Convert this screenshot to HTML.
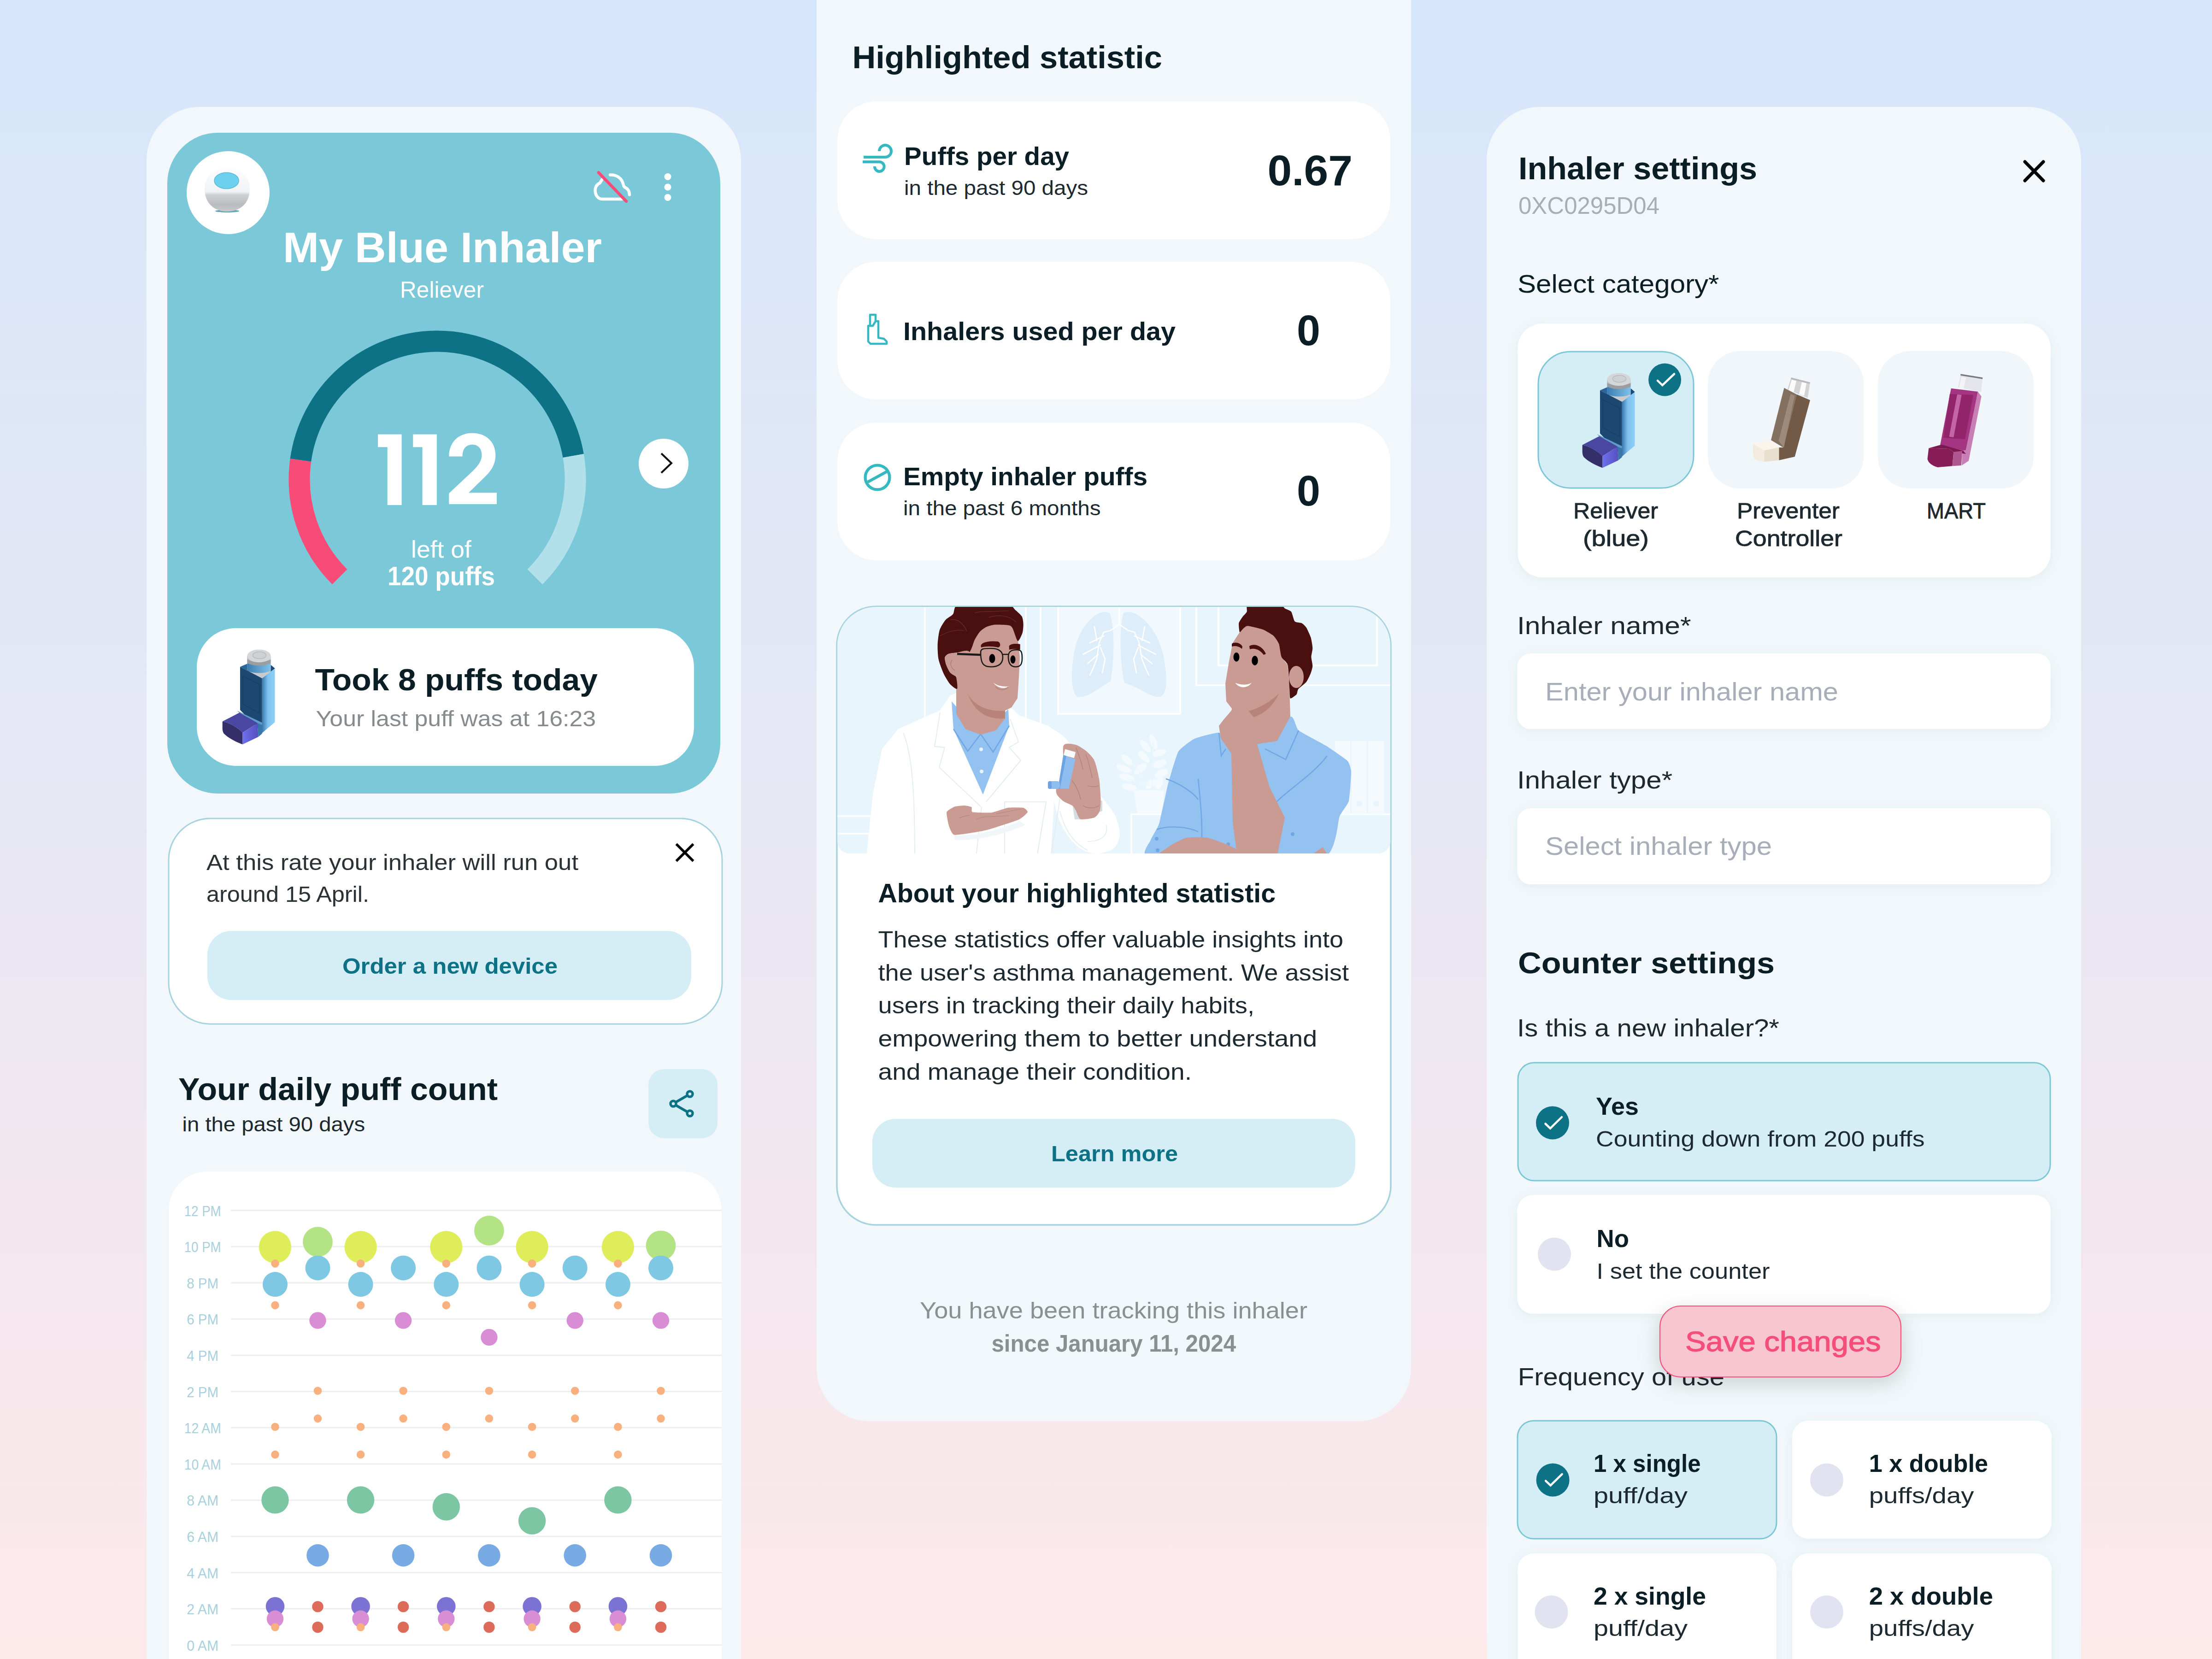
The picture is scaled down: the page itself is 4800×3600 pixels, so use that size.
<!DOCTYPE html>
<html><head><meta charset="utf-8"><style>
html,body{margin:0;padding:0;width:4800px;height:3600px;overflow:hidden}
body{background:linear-gradient(180deg,#d5e6fb 0%,#dfe7f7 25%,#e7e7f3 50%,#f3e7ee 75%,#fde9ea 100%)}
svg{position:absolute;left:0;top:0;font-family:"Liberation Sans",sans-serif}
</style></head><body>
<svg width="4800" height="3600" viewBox="0 0 4800 3600">
<defs><filter id="sh2" x="-10%" y="-30%" width="120%" height="160%"><feDropShadow dx="0" dy="4" stdDeviation="10" flood-color="#4a6a7a" flood-opacity="0.07"/></filter><filter id="sh" x="-30%" y="-50%" width="160%" height="200%"><feDropShadow dx="0" dy="12" stdDeviation="22" flood-color="#000" flood-opacity="0.16"/></filter></defs>
<rect x="318.0" y="232.0" width="1290.0" height="3600.0" rx="115" fill="#f1f7fa"/>
<rect x="1772.0" y="-200.0" width="1290.0" height="3284.0" rx="115" fill="#f1f7fa"/>
<rect x="3226.0" y="232.0" width="1290.0" height="3600.0" rx="115" fill="#f1f7fa"/>
<rect x="363.0" y="288.0" width="1200.0" height="1434.0" rx="110" fill="#7bc9d8"/>
<circle cx="495" cy="418" r="90" fill="#fff"/>
<defs><linearGradient id="knob" x1="0" y1="0" x2="0" y2="1"><stop offset="0" stop-color="#fdfdfe"/><stop offset="0.55" stop-color="#f1f2f5"/><stop offset="0.62" stop-color="#cfd0d4"/><stop offset="0.85" stop-color="#bbbcc0"/><stop offset="1" stop-color="#c9cacd"/></linearGradient></defs>
<ellipse cx="493" cy="458" rx="26" ry="3" fill="#5fa5b3"/>
<path d="M444 410 C444 380 468 364 493 364 C520 364 542 382 542 410 C542 440 522 459 493 459 C464 459 444 440 444 410 Z" fill="url(#knob)"/>
<ellipse cx="491.6" cy="392" rx="26.5" ry="17.5" fill="#6cd1ee" stroke="#5ab8d4" stroke-width="1.5"/>
<g fill="none" stroke="#fff" stroke-width="6.5" stroke-linecap="round" stroke-linejoin="round"><path d="M1324 379.5 C1338 379 1350 386 1353 402 C1353.5 405 1355 406 1357 407 C1363 410 1366 416 1366 422.5"/><path d="M1306 390 L1302 397 C1294 400 1291 408 1291.5 414 C1292 424 1298 432 1307 432 L1349 432"/></g>
<line x1="1299" y1="374.5" x2="1359" y2="436.8" stroke="#f74c78" stroke-width="6.5" stroke-linecap="round"/>
<circle cx="1449" cy="383.5" r="7.5" fill="#fff"/>
<circle cx="1449" cy="406" r="7.5" fill="#fff"/>
<circle cx="1449" cy="428.4" r="7.5" fill="#fff"/>
<text x="614.0" y="568.5" font-size="93.0" fill="#fff" font-weight="700" textLength="692.0" lengthAdjust="spacingAndGlyphs">My Blue Inhaler</text>
<text x="868.0" y="646.0" font-size="49.4" fill="#fff" textLength="182.0" lengthAdjust="spacingAndGlyphs">Reliever</text>
<path d="M737.2 1251.8 A299.5 299.5 0 0 1 652.4 998.3" fill="none" stroke="#f74c78" stroke-width="46"/>
<path d="M652.4 998.3 A299.5 299.5 0 0 1 1244.1 989.0" fill="none" stroke="#0e7286" stroke-width="46"/>
<path d="M1244.1 989.0 A299.5 299.5 0 0 1 1160.8 1251.8" fill="none" stroke="#b2e0ea" stroke-width="46"/>
<path d="M820.1 942.4 L871.6 942.4 L871.6 1096 L840.7 1096 L840.7 970.2 L820.1 970.2 Z M896.3 942.4 L947.8 942.4 L947.8 1096 L916.6 1096 L916.6 970.2 L896.3 970.2 Z M974.3 990.5 C974.3 958 997 939.7 1025 939.7 C1054 939.7 1075.3 958 1075.3 988 C1075.3 1005 1068 1020 1052 1035 L1017 1069.2 L1078 1069.2 L1078 1094 L974.3 1094 L974.3 1070.5 L1026 1022 C1038 1010 1045.5 1000 1045.5 987.8 C1045.5 973 1037 964.8 1025 964.8 C1012 964.8 1003.4 973 1003.4 990.5 Z" fill="#fff"/>
<text x="892.0" y="1210.0" font-size="50.9" fill="#fff" textLength="131.0" lengthAdjust="spacingAndGlyphs">left of</text>
<text x="841.0" y="1270.0" font-size="58.1" fill="#fff" font-weight="700" textLength="233.0" lengthAdjust="spacingAndGlyphs">120 puffs</text>
<circle cx="1440" cy="1006" r="54" fill="#fff"/>
<path d="M1435 984 L1457 1005 L1435 1026" fill="none" stroke="#111" stroke-width="4"/>
<rect x="427.0" y="1363.0" width="1079.0" height="299.0" rx="85" fill="#fff"/>
<g transform="translate(469,1395)"><defs><linearGradient id="bsa" x1="0" y1="0" x2="1" y2="0"><stop offset="0" stop-color="#3a78ad"/><stop offset="0.45" stop-color="#80c3f0"/><stop offset="1" stop-color="#8ccff7"/></linearGradient><linearGradient id="bca" x1="0" y1="0" x2="1" y2="0"><stop offset="0" stop-color="#b9babd"/><stop offset="0.6" stop-color="#d8d9db"/><stop offset="1" stop-color="#cfd0d2"/></linearGradient><linearGradient id="bba" x1="0" y1="0" x2="1" y2="0"><stop offset="0" stop-color="#3c7db3"/><stop offset="1" stop-color="#80c1ea"/></linearGradient><linearGradient id="bma" x1="0" y1="0" x2="1" y2="0"><stop offset="0" stop-color="#6e70ec"/><stop offset="1" stop-color="#5650c0"/></linearGradient></defs><polygon points="52,52 66.5,45.7 119.2,48.5 127.5,55.4 99.8,76.9" fill="#2a659b"/><polygon points="110,52 119.2,48.5 127.5,55.4 99.8,76.9" fill="#1c4a75"/><path d="M67.5 28.4 L67.5 72 Q93 84 118.5 72 L118.5 28.4 Z" fill="#c9cacd"/><path d="M67.5 44 L67.5 61 Q93 70 118.5 61 L118.5 44 Q93 53 67.5 44 Z" fill="url(#bba)"/><path d="M67.5 28.4 L67.5 40 Q93 52 118.5 40 L118.5 28.4 Z" fill="url(#bca)"/><path d="M67.5 36 L67.5 44 Q93 55 118.5 44 L118.5 36 Q93 47 67.5 36 Z" fill="#9c9da0"/><ellipse cx="93" cy="28.4" rx="25.5" ry="13.9" fill="#d5d6d8"/><ellipse cx="94" cy="27" rx="14.6" ry="7.6" fill="#cfd0d3" stroke="#b4b5b8" stroke-width="1.2"/><polygon points="52,52 99.8,76.9 99.8,195.5 52,145.5" fill="#1d4872"/><polygon points="58.2,72.1 94.3,90.1 94.3,152.5 58.2,133.1" fill="none" stroke="#173d62" stroke-width="1.3"/><polygon points="99.8,76.9 127.5,55.4 127.5,171.9 99.8,195.5" fill="url(#bsa)"/><polygon points="45.7,147.5 99.8,173.3 99.8,197 91.5,203.9 90.1,174.2 50.5,151.5" fill="#3977ab"/><polygon points="45.7,147.5 99.8,173.3 99.8,178 90.1,174.2 50.5,151.5" fill="#5e9bcb"/><path d="M13.7 170.6 L50.5 151.5 L90.1 174.2 L57.5 194.7 C45 182 25 172 13.7 170.6 Z" fill="#4a47a2"/><path d="M13.7 170.6 C25 172 45 182 57.5 194.7 L57.5 220.2 C40 214 25 205 17 197 C14 193 13.7 188 13.7 184 Z" fill="#342e69"/><polygon points="57.5,194.7 90.1,174.2 91.5,203.9 57.5,220.2" fill="url(#bma)"/></g>
<text x="683.5" y="1497.6" font-size="66.1" fill="#0b1e25" font-weight="700" textLength="613.5" lengthAdjust="spacingAndGlyphs">Took 8 puffs today</text>
<text x="685.6" y="1575.6" font-size="48.7" fill="#868b8e" textLength="607.4" lengthAdjust="spacingAndGlyphs">Your last puff was at 16:23</text>
<rect x="366.0" y="1776.0" width="1201.0" height="446.0" rx="90" fill="#fff" stroke="#a6d3de" stroke-width="3"/>
<text x="448.0" y="1887.5" font-size="48.7" fill="#2a3236" textLength="807.0" lengthAdjust="spacingAndGlyphs">At this rate your inhaler will run out</text>
<text x="448.0" y="1956.6" font-size="48.7" fill="#2a3236" textLength="353.0" lengthAdjust="spacingAndGlyphs">around 15 April.</text>
<path d="M1467.5 1831.5 L1504.5 1868.5 M1504.5 1831.5 L1467.5 1868.5" stroke="#000" stroke-width="5.5"/>
<rect x="450.0" y="2020.0" width="1050.0" height="150.0" rx="52" fill="#d5eef5"/>
<text x="743.0" y="2113.0" font-size="48.7" fill="#0e7286" font-weight="700" textLength="467.0" lengthAdjust="spacingAndGlyphs">Order a new device</text>
<text x="387.0" y="2387.0" font-size="68.3" fill="#0b1e25" font-weight="700" textLength="693.0" lengthAdjust="spacingAndGlyphs">Your daily puff count</text>
<text x="395.5" y="2454.6" font-size="44.2" fill="#1c2930" textLength="396.5" lengthAdjust="spacingAndGlyphs">in the past 90 days</text>
<rect x="1407.0" y="2320.0" width="150.0" height="150.0" rx="34" fill="#d5eef5"/>
<g fill="none" stroke="#0e7286" stroke-width="5.5"><circle cx="1497" cy="2374" r="6"/><circle cx="1461" cy="2395" r="6"/><circle cx="1497" cy="2416" r="6"/><path d="M1466 2392 L1492 2377 M1466 2398 L1492 2413"/></g>
<rect x="366.0" y="2542.0" width="1200.0" height="1200.0" rx="85" fill="#fff"/>
<line x1="501" y1="2626.5" x2="1566" y2="2626.5" stroke="#eceef0" stroke-width="3"/>
<text x="439.7" y="2638.5" font-size="31.0" fill="#a9d0dd" text-anchor="middle" textLength="80.0" lengthAdjust="spacingAndGlyphs">12 PM</text>
<line x1="501" y1="2705.1" x2="1566" y2="2705.1" stroke="#eceef0" stroke-width="3"/>
<text x="439.7" y="2717.1" font-size="31.0" fill="#a9d0dd" text-anchor="middle" textLength="80.0" lengthAdjust="spacingAndGlyphs">10 PM</text>
<line x1="501" y1="2783.7" x2="1566" y2="2783.7" stroke="#eceef0" stroke-width="3"/>
<text x="439.7" y="2795.7" font-size="31.0" fill="#a9d0dd" text-anchor="middle" textLength="69.0" lengthAdjust="spacingAndGlyphs">8 PM</text>
<line x1="501" y1="2862.3" x2="1566" y2="2862.3" stroke="#eceef0" stroke-width="3"/>
<text x="439.7" y="2874.3" font-size="31.0" fill="#a9d0dd" text-anchor="middle" textLength="69.0" lengthAdjust="spacingAndGlyphs">6 PM</text>
<line x1="501" y1="2940.9" x2="1566" y2="2940.9" stroke="#eceef0" stroke-width="3"/>
<text x="439.7" y="2952.9" font-size="31.0" fill="#a9d0dd" text-anchor="middle" textLength="69.0" lengthAdjust="spacingAndGlyphs">4 PM</text>
<line x1="501" y1="3019.5" x2="1566" y2="3019.5" stroke="#eceef0" stroke-width="3"/>
<text x="439.7" y="3031.5" font-size="31.0" fill="#a9d0dd" text-anchor="middle" textLength="69.0" lengthAdjust="spacingAndGlyphs">2 PM</text>
<line x1="501" y1="3098.1" x2="1566" y2="3098.1" stroke="#eceef0" stroke-width="3"/>
<text x="439.7" y="3110.1" font-size="31.0" fill="#a9d0dd" text-anchor="middle" textLength="80.0" lengthAdjust="spacingAndGlyphs">12 AM</text>
<line x1="501" y1="3176.7" x2="1566" y2="3176.7" stroke="#eceef0" stroke-width="3"/>
<text x="439.7" y="3188.7" font-size="31.0" fill="#a9d0dd" text-anchor="middle" textLength="80.0" lengthAdjust="spacingAndGlyphs">10 AM</text>
<line x1="501" y1="3255.3" x2="1566" y2="3255.3" stroke="#eceef0" stroke-width="3"/>
<text x="439.7" y="3267.3" font-size="31.0" fill="#a9d0dd" text-anchor="middle" textLength="69.0" lengthAdjust="spacingAndGlyphs">8 AM</text>
<line x1="501" y1="3333.9" x2="1566" y2="3333.9" stroke="#eceef0" stroke-width="3"/>
<text x="439.7" y="3345.9" font-size="31.0" fill="#a9d0dd" text-anchor="middle" textLength="69.0" lengthAdjust="spacingAndGlyphs">6 AM</text>
<line x1="501" y1="3412.5" x2="1566" y2="3412.5" stroke="#eceef0" stroke-width="3"/>
<text x="439.7" y="3424.5" font-size="31.0" fill="#a9d0dd" text-anchor="middle" textLength="69.0" lengthAdjust="spacingAndGlyphs">4 AM</text>
<line x1="501" y1="3491.1" x2="1566" y2="3491.1" stroke="#eceef0" stroke-width="3"/>
<text x="439.7" y="3503.1" font-size="31.0" fill="#a9d0dd" text-anchor="middle" textLength="69.0" lengthAdjust="spacingAndGlyphs">2 AM</text>
<line x1="501" y1="3569.7" x2="1566" y2="3569.7" stroke="#eceef0" stroke-width="3"/>
<text x="439.7" y="3581.7" font-size="31.0" fill="#a9d0dd" text-anchor="middle" textLength="69.0" lengthAdjust="spacingAndGlyphs">0 AM</text>
<circle cx="597.0" cy="2706.1" r="35.1" fill="#e0ed5a"/>
<circle cx="597.0" cy="2787.1" r="27.0" fill="#7fc8e3"/>
<circle cx="597.0" cy="2741.9" r="8.8" fill="#f9b07f"/>
<circle cx="597.0" cy="2832.4" r="8.8" fill="#f9b07f"/>
<circle cx="597.0" cy="3096.3" r="8.8" fill="#f9b07f"/>
<circle cx="597.0" cy="3156.4" r="8.8" fill="#f9b07f"/>
<circle cx="597.0" cy="3254.9" r="29.7" fill="#7cc6a3"/>
<circle cx="597.0" cy="3485.8" r="20.3" fill="#7b72d4"/>
<circle cx="597.0" cy="3512.8" r="18.2" fill="#d88dd5"/>
<circle cx="597.0" cy="3531.0" r="8.8" fill="#f9b07f"/>
<circle cx="782.6" cy="2706.1" r="35.1" fill="#e0ed5a"/>
<circle cx="782.6" cy="2787.1" r="27.0" fill="#7fc8e3"/>
<circle cx="782.6" cy="2741.9" r="8.8" fill="#f9b07f"/>
<circle cx="782.6" cy="2832.4" r="8.8" fill="#f9b07f"/>
<circle cx="782.6" cy="3096.3" r="8.8" fill="#f9b07f"/>
<circle cx="782.6" cy="3156.4" r="8.8" fill="#f9b07f"/>
<circle cx="782.6" cy="3254.9" r="29.7" fill="#7cc6a3"/>
<circle cx="782.6" cy="3485.8" r="20.3" fill="#7b72d4"/>
<circle cx="782.6" cy="3512.8" r="18.2" fill="#d88dd5"/>
<circle cx="782.6" cy="3531.0" r="8.8" fill="#f9b07f"/>
<circle cx="968.3" cy="2706.1" r="35.1" fill="#e0ed5a"/>
<circle cx="968.3" cy="2787.1" r="27.0" fill="#7fc8e3"/>
<circle cx="968.3" cy="2741.9" r="8.8" fill="#f9b07f"/>
<circle cx="968.3" cy="2832.4" r="8.8" fill="#f9b07f"/>
<circle cx="968.3" cy="3096.3" r="8.8" fill="#f9b07f"/>
<circle cx="968.3" cy="3156.4" r="8.8" fill="#f9b07f"/>
<circle cx="968.3" cy="3269.8" r="29.7" fill="#7cc6a3"/>
<circle cx="968.3" cy="3485.8" r="20.3" fill="#7b72d4"/>
<circle cx="968.3" cy="3512.8" r="18.2" fill="#d88dd5"/>
<circle cx="968.3" cy="3531.0" r="8.8" fill="#f9b07f"/>
<circle cx="1154.6" cy="2706.1" r="35.1" fill="#e0ed5a"/>
<circle cx="1154.6" cy="2787.1" r="27.0" fill="#7fc8e3"/>
<circle cx="1154.6" cy="2741.9" r="8.8" fill="#f9b07f"/>
<circle cx="1154.6" cy="2832.4" r="8.8" fill="#f9b07f"/>
<circle cx="1154.6" cy="3096.3" r="8.8" fill="#f9b07f"/>
<circle cx="1154.6" cy="3156.4" r="8.8" fill="#f9b07f"/>
<circle cx="1154.6" cy="3300.1" r="29.7" fill="#7cc6a3"/>
<circle cx="1154.6" cy="3485.8" r="20.3" fill="#7b72d4"/>
<circle cx="1154.6" cy="3512.8" r="18.2" fill="#d88dd5"/>
<circle cx="1154.6" cy="3531.0" r="8.8" fill="#f9b07f"/>
<circle cx="1340.9" cy="2706.1" r="35.1" fill="#e0ed5a"/>
<circle cx="1340.9" cy="2787.1" r="27.0" fill="#7fc8e3"/>
<circle cx="1340.9" cy="2741.9" r="8.8" fill="#f9b07f"/>
<circle cx="1340.9" cy="2832.4" r="8.8" fill="#f9b07f"/>
<circle cx="1340.9" cy="3096.3" r="8.8" fill="#f9b07f"/>
<circle cx="1340.9" cy="3156.4" r="8.8" fill="#f9b07f"/>
<circle cx="1340.9" cy="3254.9" r="29.7" fill="#7cc6a3"/>
<circle cx="1340.9" cy="3485.8" r="20.3" fill="#7b72d4"/>
<circle cx="1340.9" cy="3512.8" r="18.2" fill="#d88dd5"/>
<circle cx="1340.9" cy="3531.0" r="8.8" fill="#f9b07f"/>
<circle cx="689.5" cy="2694.7" r="32.4" fill="#b3e384"/>
<circle cx="689.5" cy="2751.4" r="27.0" fill="#7fc8e3"/>
<circle cx="689.5" cy="2865.4" r="18.2" fill="#d88dd5"/>
<circle cx="689.5" cy="3018.0" r="8.8" fill="#f9b07f"/>
<circle cx="689.5" cy="3078.1" r="8.8" fill="#f9b07f"/>
<circle cx="689.5" cy="3375.1" r="24.3" fill="#78abe3"/>
<circle cx="689.5" cy="3486.4" r="12.2" fill="#dc6b5a"/>
<circle cx="689.5" cy="3531.0" r="12.2" fill="#dc6b5a"/>
<circle cx="875.1" cy="2751.4" r="27.0" fill="#7fc8e3"/>
<circle cx="875.1" cy="2865.4" r="18.2" fill="#d88dd5"/>
<circle cx="875.1" cy="3018.0" r="8.8" fill="#f9b07f"/>
<circle cx="875.1" cy="3078.1" r="8.8" fill="#f9b07f"/>
<circle cx="875.1" cy="3375.1" r="24.3" fill="#78abe3"/>
<circle cx="875.1" cy="3486.4" r="12.2" fill="#dc6b5a"/>
<circle cx="875.1" cy="3531.0" r="12.2" fill="#dc6b5a"/>
<circle cx="1061.4" cy="2670.4" r="32.4" fill="#b3e384"/>
<circle cx="1061.4" cy="2751.4" r="27.0" fill="#7fc8e3"/>
<circle cx="1061.4" cy="2901.9" r="18.2" fill="#d88dd5"/>
<circle cx="1061.4" cy="3018.0" r="8.8" fill="#f9b07f"/>
<circle cx="1061.4" cy="3078.1" r="8.8" fill="#f9b07f"/>
<circle cx="1061.4" cy="3375.1" r="24.3" fill="#78abe3"/>
<circle cx="1061.4" cy="3486.4" r="12.2" fill="#dc6b5a"/>
<circle cx="1061.4" cy="3531.0" r="12.2" fill="#dc6b5a"/>
<circle cx="1247.7" cy="2751.4" r="27.0" fill="#7fc8e3"/>
<circle cx="1247.7" cy="2865.4" r="18.2" fill="#d88dd5"/>
<circle cx="1247.7" cy="3018.0" r="8.8" fill="#f9b07f"/>
<circle cx="1247.7" cy="3078.1" r="8.8" fill="#f9b07f"/>
<circle cx="1247.7" cy="3375.1" r="24.3" fill="#78abe3"/>
<circle cx="1247.7" cy="3486.4" r="12.2" fill="#dc6b5a"/>
<circle cx="1247.7" cy="3531.0" r="12.2" fill="#dc6b5a"/>
<circle cx="1434.0" cy="2702.8" r="32.4" fill="#b3e384"/>
<circle cx="1434.0" cy="2751.4" r="27.0" fill="#7fc8e3"/>
<circle cx="1434.0" cy="2865.4" r="18.2" fill="#d88dd5"/>
<circle cx="1434.0" cy="3018.0" r="8.8" fill="#f9b07f"/>
<circle cx="1434.0" cy="3078.1" r="8.8" fill="#f9b07f"/>
<circle cx="1434.0" cy="3375.1" r="24.3" fill="#78abe3"/>
<circle cx="1434.0" cy="3486.4" r="12.2" fill="#dc6b5a"/>
<circle cx="1434.0" cy="3531.0" r="12.2" fill="#dc6b5a"/>
<text x="1849.5" y="147.8" font-size="67.6" fill="#0b1e25" font-weight="700" textLength="672.5" lengthAdjust="spacingAndGlyphs">Highlighted statistic</text>
<rect x="1817.0" y="220.0" width="1200.0" height="299.0" rx="85" fill="#fff"/>
<rect x="1817.0" y="568.0" width="1200.0" height="299.0" rx="85" fill="#fff"/>
<rect x="1817.0" y="917.0" width="1200.0" height="299.0" rx="85" fill="#fff"/>
<text x="1962.0" y="358.0" font-size="54.8" fill="#0b1e25" font-weight="700" textLength="358.0" lengthAdjust="spacingAndGlyphs">Puffs per day</text>
<text x="1962.0" y="423.0" font-size="44.2" fill="#1c2930" textLength="399.0" lengthAdjust="spacingAndGlyphs">in the past 90 days</text>
<text x="2750.5" y="401.5" font-size="93.0" fill="#0b1e25" font-weight="700" textLength="184.5" lengthAdjust="spacingAndGlyphs">0.67</text>
<text x="1960.0" y="738.0" font-size="54.8" fill="#0b1e25" font-weight="700" textLength="591.0" lengthAdjust="spacingAndGlyphs">Inhalers used per day</text>
<text x="2814.0" y="748.6" font-size="93.0" fill="#0b1e25" font-weight="700" textLength="51.0" lengthAdjust="spacingAndGlyphs">0</text>
<text x="1960.0" y="1053.0" font-size="54.8" fill="#0b1e25" font-weight="700" textLength="530.0" lengthAdjust="spacingAndGlyphs">Empty inhaler puffs</text>
<text x="1960.0" y="1118.0" font-size="44.2" fill="#1c2930" textLength="428.5" lengthAdjust="spacingAndGlyphs">in the past 6 months</text>
<text x="2814.0" y="1097.0" font-size="93.0" fill="#0b1e25" font-weight="700" textLength="51.0" lengthAdjust="spacingAndGlyphs">0</text>
<g fill="none" stroke="#35b8bf" stroke-width="6" stroke-linecap="butt"><path d="M1874 341 L1921 341 A13 13 0 1 0 1908 328"/><path d="M1872 351.3 L1907.7 351.3 A10.3 10.3 0 1 1 1898 361"/></g>
<path d="M1884 707 L1888 707 L1888 683 L1900 683 L1900 697 L1906 697 L1906 733 L1918 735 L1924 741 L1924 746 L1889 746 L1884 741 Z M1888 707 L1894 707 L1900 697" fill="none" stroke="#35b8bf" stroke-width="4.5" stroke-linejoin="round"/>
<g fill="none" stroke="#35b8bf" stroke-width="6.3"><circle cx="1904" cy="1036" r="26.4"/><path d="M1883 1046 L1925 1023"/></g>
<rect x="1816.0" y="1316.0" width="1202.0" height="1342.0" rx="85" fill="#fff" stroke="#a6d3de" stroke-width="3.5"/>
<clipPath id="illuclip"><path d="M1901 1317 L2933 1317 A84 84 0 0 1 3017 1401 L3017 1826 A26 26 0 0 1 2991 1852 L1843 1852 A26 26 0 0 1 1817 1826 L1817 1401 A84 84 0 0 1 1901 1317 Z"/></clipPath>
<g clip-path="url(#illuclip)">
<rect x="1816" y="1316" width="1202" height="540" fill="#e8f5fd"/>
<g stroke="#ffffff" stroke-width="3.5" fill="none"><line x1="2007" y1="1316" x2="2007" y2="1560"/><line x1="2226" y1="1316" x2="2226" y2="1560"/><line x1="2258" y1="1316" x2="2258" y2="1580"/><line x1="1816" y1="1771" x2="1900" y2="1771"/><line x1="1816" y1="1809" x2="1900" y2="1809"/></g>
<rect x="2296" y="1310" width="265" height="239" fill="#f1f9fe" stroke="#fff" stroke-width="4"/>
<path d="M2408 1330 C2380 1318 2340 1360 2330 1420 C2322 1470 2326 1505 2338 1512 C2355 1518 2390 1490 2410 1478 C2418 1440 2420 1360 2408 1330 Z" fill="#ddedfa"/>
<path d="M2438 1330 C2466 1318 2510 1360 2524 1420 C2534 1470 2534 1505 2518 1512 C2500 1516 2470 1490 2440 1482 C2430 1440 2428 1360 2438 1330 Z" fill="#ddedfa"/>
<g stroke="#fff" stroke-width="2.6" fill="none" stroke-linecap="round"><path d="M2429 1316 L2429 1355 M2429 1355 L2410 1368 L2395 1372 L2385 1395 L2380 1430 L2372 1450 M2395 1380 L2365 1395 M2388 1400 L2350 1420 M2383 1420 L2360 1440 M2388 1405 L2398 1430 L2392 1460 M2380 1390 L2375 1360 M2372 1450 L2365 1465"/><path d="M2429 1355 L2448 1368 L2462 1372 L2472 1395 L2478 1430 L2486 1450 M2462 1380 L2495 1395 M2470 1400 L2508 1420 M2475 1420 L2500 1440 M2470 1405 L2460 1430 L2466 1460 M2478 1390 L2484 1360 M2486 1450 L2493 1465"/></g>
<g stroke="#fff" stroke-width="4" stroke-dasharray="3 4"><path d="M2429 1318 L2429 1352"/></g>
<g stroke="#ffffff" stroke-width="3.5" fill="none"><rect x="2596" y="1300" width="440" height="187"/><rect x="2644" y="1300" width="344" height="144"/><line x1="2453" y1="1767" x2="3020" y2="1767"/><line x1="2455" y1="1767" x2="2455" y2="1860"/></g>
<g fill="#f4fafe"><rect x="2897" y="1608" width="33" height="159"/><rect x="2933" y="1608" width="33" height="159"/><rect x="2969" y="1608" width="34" height="159"/></g>
<g fill="#e8f5fd"><circle cx="2950" cy="1744" r="7"/><circle cx="2986" cy="1744" r="7"/></g>
<g fill="#f5faff"><ellipse cx="2503" cy="1610" rx="7" ry="17" transform="rotate(-20 2503 1610)"/><ellipse cx="2485.6" cy="1619" rx="7" ry="16" transform="rotate(-40 2485.6 1619)"/><ellipse cx="2515.3" cy="1633.8" rx="16" ry="7" transform="rotate(-15 2515.3 1633.8)"/><ellipse cx="2445.4" cy="1648.6" rx="7" ry="15" transform="rotate(-50 2445.4 1648.6)"/><ellipse cx="2482" cy="1642" rx="7" ry="16" transform="rotate(-45 2482 1642)"/><ellipse cx="2438.4" cy="1667.9" rx="17" ry="7" transform="rotate(20 2438.4 1667.9)"/><ellipse cx="2475" cy="1668" rx="16" ry="8" transform="rotate(-40 2475 1668)"/><ellipse cx="2517" cy="1657.4" rx="15" ry="8" transform="rotate(-20 2517 1657.4)"/><ellipse cx="2520.6" cy="1678.3" rx="15" ry="8" transform="rotate(-25 2520.6 1678.3)"/><ellipse cx="2445.4" cy="1687" rx="17" ry="7" transform="rotate(15 2445.4 1687)"/><ellipse cx="2497.9" cy="1701" rx="14" ry="8" transform="rotate(-40 2497.9 1701)"/><ellipse cx="2450.7" cy="1708" rx="16" ry="7" transform="rotate(10 2450.7 1708)"/><ellipse cx="2515.3" cy="1699.3" rx="8" ry="14" transform="rotate(20 2515.3 1699.3)"/><path d="M2460.3 1715 L2525.8 1715 L2522.3 1765.7 L2468 1765.7 Z"/></g>
<g stroke="#ecf6fd" stroke-width="2" fill="none"><path d="M2500 1715 L2502 1610 M2490 1700 L2455 1650 M2495 1705 L2445 1690"/></g>
<polygon points="1880,1860 1894,1724 1914,1625 1949,1582 2009,1555 2039,1542 2062,1509 2075,1504 2198,1539 2211,1552 2274,1575 2300,1592 2290,1700 2280,1860" fill="#fff"/>
<path d="M2262.0 1580.0 C2266.7 1573.6 2291.3 1586.4 2300.0 1592.0 C2308.7 1597.6 2320.3 1610.3 2327.0 1622.0 C2333.7 1633.7 2340.9 1664.9 2350.0 1680.0 C2359.1 1695.1 2385.7 1723.0 2395.0 1735.0 C2404.3 1747.0 2415.3 1760.0 2420.0 1770.0 C2424.7 1780.0 2430.3 1800.7 2430.0 1810.0 C2429.7 1819.3 2424.0 1834.4 2418.0 1840.0 C2412.0 1845.6 2394.1 1851.3 2385.0 1852.0 C2375.9 1852.7 2358.9 1849.9 2350.0 1845.0 C2341.1 1840.1 2325.3 1825.0 2318.0 1815.0 C2310.7 1805.0 2300.1 1785.3 2295.0 1770.0 C2289.9 1754.7 2284.0 1717.3 2280.0 1700.0 C2276.0 1682.7 2267.4 1656.0 2265.0 1640.0 C2262.6 1624.0 2257.3 1586.4 2262.0 1580.0 Z" fill="#fff"/>
<g fill="none" stroke="#e6f0f4" stroke-width="2"><path d="M2300 1760 C2310 1800 2330 1830 2360 1845"/><path d="M2400 1790 C2405 1810 2395 1825 2360 1826"/></g>
<g fill="none" stroke="#e3eef3" stroke-width="2"><path d="M2040 1545 L2028 1620 L2050 1622 L2038 1665 L2128 1750"/><path d="M2192 1560 L2210 1610 L2190 1622 L2215 1650 L2140 1740"/><path d="M2130 1750 L2118 1860"/><path d="M2180 1740 L2180 1860 M2180 1740 L2270 1740 L2250 1860"/><path d="M1960 1590 C1980 1640 1985 1720 1985 1860"/><path d="M2315 1640 L2280 1860"/></g>
<polygon points="2065,1522 2128,1593 2188,1539 2190,1575 2133,1724 2069,1582" fill="#93c1f0"/>
<path d="M2069 1582 L2100 1630 L2128 1593 L2155 1632 L2190 1575" fill="none" stroke="#6fa6e6" stroke-width="2.5"/>
<circle cx="2129" cy="1626" r="4" fill="#e8f2fb"/><circle cx="2130" cy="1674" r="4" fill="#e8f2fb"/>
<polygon points="2075,1419 2095,1416 2105,1400 2120,1360 2161,1348 2195,1350 2208,1380 2213,1426 2211,1469 2208,1515 2195,1535 2181,1542 2181,1559 2161,1585 2128,1594 2095,1582 2075,1549 2075,1496" fill="#c99b93"/>
<path d="M2100 1505 C2115 1535 2150 1545 2181 1542 L2181 1559 C2150 1562 2115 1550 2100 1505 Z" fill="#b88379"/>
<path d="M2082.0 1310.0 C2095.4 1307.3 2168.8 1308.4 2183.0 1310.0 C2197.2 1311.6 2199.5 1320.7 2203.5 1323.9 C2207.5 1327.1 2215.5 1334.3 2217.5 1337.8 C2219.5 1341.3 2220.5 1350.2 2220.6 1354.3 C2220.7 1358.4 2220.1 1369.0 2218.7 1373.3 C2217.3 1377.6 2211.1 1392.2 2208.6 1391.0 C2206.1 1389.8 2199.6 1367.2 2197.2 1363.2 C2194.8 1359.2 2192.8 1357.7 2188.4 1356.8 C2184.0 1355.9 2164.8 1355.2 2159.2 1355.6 C2153.6 1356.0 2144.1 1358.8 2140.3 1360.6 C2136.5 1362.4 2129.3 1367.5 2126.3 1370.8 C2123.3 1374.1 2117.7 1383.3 2115.0 1388.5 C2112.3 1393.7 2108.1 1411.8 2103.5 1415.0 C2098.9 1418.2 2081.0 1415.8 2075.7 1416.3 C2070.4 1416.8 2061.0 1417.7 2058.0 1418.9 C2055.0 1420.1 2051.0 1423.9 2050.4 1426.5 C2049.8 1429.1 2051.6 1437.8 2052.9 1441.6 C2054.2 1445.4 2059.3 1456.3 2061.8 1459.4 C2064.3 1462.5 2072.6 1464.1 2074.4 1468.2 C2076.2 1472.3 2078.5 1492.9 2077.0 1494.8 C2075.5 1496.7 2065.2 1488.5 2061.8 1484.7 C2058.4 1480.9 2050.8 1468.2 2047.8 1461.9 C2044.8 1455.6 2038.0 1437.7 2036.5 1430.3 C2035.0 1422.9 2034.3 1406.0 2034.6 1398.6 C2034.9 1391.2 2037.0 1373.2 2039.0 1367.0 C2041.0 1360.8 2048.2 1349.4 2051.6 1345.4 C2055.0 1341.4 2064.5 1336.9 2068.0 1332.8 C2071.5 1328.7 2068.6 1312.7 2082.0 1310.0 Z" fill="#4a1010"/>
<g fill="none" stroke="#7a3a36" stroke-width="1.2" opacity="0.7"><path d="M2040 1380 C2060 1368 2080 1366 2092 1368"/><path d="M2062 1345 C2075 1342 2090 1350 2098 1370"/><path d="M2115 1330 C2130 1325 2160 1328 2190 1325"/><path d="M2145 1340 C2165 1333 2190 1335 2205 1350"/></g>
<path d="M2103.5 1415.0 C2100.9 1407.8 2081.8 1415.8 2075.7 1416.3 C2069.6 1416.8 2061.4 1417.5 2058.0 1418.9 C2054.6 1420.3 2051.1 1423.5 2050.4 1426.5 C2049.7 1429.5 2051.4 1437.2 2052.9 1441.6 C2054.4 1446.0 2058.7 1455.9 2061.8 1459.4 C2064.9 1462.9 2071.6 1466.6 2076.0 1468.0 C2080.4 1469.4 2091.3 1477.1 2095.0 1470.0 C2098.7 1462.9 2106.1 1422.2 2103.5 1415.0 Z" fill="#c99b93"/>
<path d="M2066 1432 C2060 1440 2064 1450 2072 1455" fill="none" stroke="#b07a72" stroke-width="1.3"/>
<g fill="#4a1010"><path d="M2128.5 1402 C2128 1393 2150 1390 2165 1392 C2172 1394 2172 1404 2166 1405 C2152 1402 2140 1402 2129 1405 Z"/><path d="M2189.6 1403 C2190 1397 2205 1396 2213.7 1398 L2213.7 1410 C2205 1408 2196 1408 2190 1410 Z"/></g>
<g fill="none" stroke="#1a1a1a" stroke-width="2.6"><path d="M2128 1416 C2128 1408 2132 1407 2150 1407 C2168 1407 2176 1414 2176 1426 C2176 1440 2168 1447 2150 1447 C2134 1447 2128 1440 2128 1416 Z"/><path d="M2188 1425 C2188 1414 2194 1410 2206 1410 C2216 1410 2218 1414 2218 1428 C2218 1442 2214 1447 2204 1447 C2194 1447 2188 1440 2188 1425 Z"/><path d="M2176 1420 L2188 1420"/><path d="M2077 1419 L2127.6 1421" stroke-width="4.5"/></g>
<ellipse cx="2153" cy="1429" rx="6.5" ry="10" fill="#000"/><ellipse cx="2198" cy="1431" rx="5.5" ry="9" fill="#000"/>
<path d="M2155 1481 C2165 1489 2180 1491 2190 1489 C2180 1496 2165 1494 2155 1481 Z" fill="#fff"/>
<path d="M2160 1490 C2170 1500 2182 1498 2188 1490" fill="none" stroke="#b88379" stroke-width="2"/>
<path d="M2070 1812 C2110 1815 2160 1805 2212 1782 L2225 1790 C2170 1815 2110 1825 2072 1822 Z" fill="#f1f6f9"/>
<path d="M2054.2 1762.3 C2055.2 1758.9 2068.1 1751.6 2071.3 1750.4 C2074.6 1749.2 2090.1 1747.9 2093.2 1748.0 C2096.3 1748.1 2107.0 1750.3 2108.4 1751.5 C2109.8 1752.7 2106.7 1761.3 2110.3 1762.3 C2113.9 1763.3 2145.6 1764.0 2152.0 1763.2 C2158.4 1762.4 2181.5 1753.7 2187.2 1752.8 C2192.9 1751.9 2216.8 1752.0 2220.4 1752.8 C2224.0 1753.6 2230.7 1760.2 2229.9 1762.3 C2229.1 1764.4 2218.0 1775.2 2210.9 1778.4 C2203.8 1781.6 2152.3 1798.0 2144.4 1800.3 C2136.5 1802.6 2122.2 1805.1 2116.0 1806.0 C2109.8 1806.9 2075.2 1812.8 2070.4 1811.6 C2065.7 1810.4 2060.3 1795.8 2059.0 1791.7 C2057.7 1787.6 2053.2 1765.7 2054.2 1762.3 Z" fill="#c99b93"/>
<g fill="none" stroke="#b5847b" stroke-width="1.1"><path d="M2082 1775 C2090 1771 2098 1770 2105 1769"/><path d="M2118 1778 C2128 1773 2140 1772 2150 1772 L2190 1770"/><path d="M2162 1766 C2180 1763 2200 1758 2215 1756"/></g>
<path d="M2327 1745 L2345 1745 L2346 1778 L2332 1778 Z" fill="#d6dde0"/><path d="M2384 1735 L2392 1738 L2392 1760 L2386 1762 Z" fill="#d6dde0"/>
<path d="M2307.5 1618.8 C2310.4 1610.2 2328.6 1614.9 2334.5 1616.3 C2340.4 1617.7 2353.3 1626.6 2358.0 1630.6 C2362.7 1634.6 2371.8 1644.0 2375.0 1650.9 C2378.2 1657.8 2383.4 1680.3 2385.0 1689.7 C2386.6 1699.1 2388.3 1723.7 2388.5 1731.8 C2388.7 1739.9 2388.4 1753.9 2386.8 1758.8 C2385.2 1763.7 2379.9 1771.8 2375.0 1774.0 C2370.1 1776.2 2349.3 1779.2 2344.6 1777.4 C2339.9 1775.6 2336.5 1762.1 2334.5 1758.8 C2332.5 1755.5 2330.8 1751.1 2327.7 1748.7 C2324.5 1746.3 2311.4 1741.4 2307.5 1738.6 C2303.6 1735.8 2295.8 1728.2 2294.0 1725.1 C2292.2 1721.9 2290.4 1715.7 2292.3 1711.6 C2294.2 1707.5 2308.2 1700.8 2310.0 1690.0 C2311.8 1679.2 2304.6 1627.4 2307.5 1618.8 Z" fill="#c99b93"/>
<g fill="none" stroke="#b07f76" stroke-width="1.3"><path d="M2335 1622 C2342 1640 2348 1660 2350 1670"/><path d="M2356 1637 C2362 1650 2366 1670 2370 1688"/><path d="M2360 1705 C2368 1708 2378 1708 2384 1705"/><path d="M2350 1748 C2360 1755 2375 1755 2385 1748"/><path d="M2326 1693 C2335 1705 2342 1720 2345 1735"/></g>
<polygon points="2311,1625.6 2334,1632 2331,1645 2308,1639" fill="#f8fafc"/>
<polygon points="2307.5,1638.2 2333.6,1647.5 2319.3,1711.6 2295.7,1711.6" fill="#8fbdf0"/>
<polygon points="2307.5,1638.2 2314,1640.5 2300,1711.6 2295.7,1711.6" fill="#6ea3e3"/>
<rect x="2274" y="1695" width="26" height="17" rx="6" fill="#8fbdf0"/><rect x="2274" y="1695" width="8" height="17" rx="4" fill="#6ea3e3"/>
<path d="M2496.0 1862.0 C2468.6 1859.1 2495.6 1828.4 2497.0 1823.0 C2498.4 1817.6 2512.2 1797.0 2515.0 1788.0 C2517.8 1779.0 2531.9 1711.5 2535.0 1700.0 C2538.1 1688.5 2552.8 1638.1 2557.0 1631.0 C2561.2 1623.9 2585.5 1606.0 2592.0 1603.0 C2598.5 1600.0 2639.1 1588.6 2645.0 1590.0 C2650.9 1591.4 2666.1 1620.2 2672.0 1622.0 C2677.9 1623.8 2715.5 1619.9 2725.0 1615.0 C2734.5 1610.1 2794.2 1557.2 2801.0 1555.0 C2807.8 1552.8 2812.4 1580.4 2818.0 1585.0 C2823.6 1589.6 2869.2 1613.2 2877.0 1618.0 C2884.8 1622.8 2920.0 1646.8 2924.0 1651.0 C2928.0 1655.2 2931.8 1668.6 2932.0 1675.0 C2932.2 1681.4 2928.8 1731.0 2927.0 1738.0 C2925.2 1745.0 2911.2 1761.9 2907.0 1771.0 C2902.8 1780.1 2900.1 1855.3 2870.0 1862.0 C2839.9 1868.7 2523.4 1864.9 2496.0 1862.0 Z" fill="#93c1f0"/>
<g fill="none" stroke="#6fa6e6" stroke-width="2.5"><path d="M2645 1590 L2650 1640 L2660 1625"/><path d="M2818 1585 L2790 1648 L2745 1625"/><path d="M2530 1690 C2560 1700 2590 1720 2600 1735"/><path d="M2600 1690 C2605 1740 2612 1800 2605 1860"/><path d="M2880 1640 C2850 1680 2800 1710 2770 1740"/><path d="M2510 1800 C2540 1790 2580 1795 2600 1805"/></g>
<g fill="#6fa6e6"><circle cx="2510" cy="1820" r="4"/><circle cx="2512" cy="1845" r="4"/><circle cx="2665" cy="1832" r="4"/><circle cx="2805" cy="1810" r="4"/></g>
<polygon points="2690,1372 2700,1350 2745,1352 2770,1372 2775,1397 2781,1426 2794,1443 2798,1493 2800,1555 2771,1608 2725,1615 2675,1540 2661,1522 2659,1483 2667,1435 2675,1395" fill="#c99b93"/>
<path d="M2700 1545 C2730 1540 2760 1520 2775 1505 C2765 1530 2740 1555 2705 1560 Z" fill="#b88379"/>
<path d="M2709.4 1310.0 C2716.3 1308.3 2767.1 1308.9 2775.0 1310.0 C2782.9 1311.1 2785.8 1318.9 2788.5 1320.6 C2791.2 1322.3 2799.9 1324.6 2802.0 1327.4 C2804.1 1330.2 2807.4 1346.1 2809.7 1348.6 C2812.0 1351.1 2822.6 1351.1 2825.1 1352.4 C2827.6 1353.7 2832.9 1358.9 2834.8 1362.0 C2836.7 1365.1 2843.1 1378.9 2844.4 1383.3 C2845.8 1387.7 2848.2 1402.2 2848.3 1406.4 C2848.4 1410.6 2845.4 1421.8 2845.4 1425.7 C2845.4 1429.6 2848.4 1441.5 2848.3 1445.0 C2848.2 1448.5 2845.8 1456.9 2844.4 1460.4 C2843.1 1463.9 2837.5 1476.2 2834.8 1479.7 C2832.1 1483.2 2819.5 1492.4 2817.4 1495.1 C2815.3 1497.8 2815.2 1504.7 2813.5 1506.7 C2811.8 1508.7 2801.5 1516.8 2800.0 1515.4 C2798.5 1514.1 2798.7 1500.4 2798.1 1493.2 C2797.5 1486.0 2796.0 1449.8 2794.3 1443.0 C2792.6 1436.2 2782.7 1430.3 2780.8 1425.7 C2778.9 1421.1 2776.7 1401.4 2775.0 1396.8 C2773.3 1392.2 2766.9 1382.5 2763.4 1379.4 C2759.9 1376.3 2745.9 1368.0 2740.3 1365.9 C2734.7 1363.8 2711.8 1358.4 2707.5 1358.2 C2703.2 1358.0 2699.5 1362.7 2697.8 1364.0 C2696.1 1365.3 2691.1 1372.9 2690.1 1371.7 C2689.1 1370.5 2687.6 1355.7 2688.2 1352.4 C2688.8 1349.1 2694.3 1341.4 2696.0 1338.9 C2697.7 1336.4 2704.3 1330.3 2705.6 1327.4 C2706.9 1324.5 2702.5 1311.7 2709.4 1310.0 Z" fill="#4a1010"/>
<ellipse cx="2813" cy="1469" rx="16" ry="24" fill="#c99b93"/>
<g fill="#4a1010"><path d="M2673 1397 C2680 1392 2692 1395 2696 1403 L2695 1408 C2688 1402 2680 1401 2673 1403 Z"/><path d="M2711 1402 C2722 1395 2740 1402 2747 1419 L2742 1421 C2735 1410 2722 1405 2712 1409 Z"/></g>
<ellipse cx="2683" cy="1425.7" rx="6.5" ry="10" fill="#000"/><ellipse cx="2723" cy="1433.4" rx="6.8" ry="10.5" fill="#000"/>
<path d="M2680.5 1482 C2695 1487 2708 1487 2716 1481.6 C2708 1494 2690 1495 2680.5 1482 Z" fill="#fff"/>
<polygon points="2645,1575 2655,1562 2672,1542 2682,1509 2725,1562 2761,1532 2776,1539 2758,1575 2728,1615 2755,1708 2788,1774 2771,1860 2685,1860 2675,1784 2672,1635 2649,1602" fill="#c99b93"/>
<path d="M2515.0 1862.0 C2498.5 1859.3 2534.0 1839.4 2540.0 1835.0 C2546.0 1830.6 2566.7 1819.7 2574.7 1818.0 C2582.7 1816.3 2610.3 1816.1 2620.0 1818.0 C2629.7 1819.9 2663.5 1832.6 2672.0 1837.0 C2680.5 1841.4 2720.7 1859.5 2705.0 1862.0 C2689.3 1864.5 2531.5 1864.7 2515.0 1862.0 Z" fill="#c99b93"/>
<polygon points="2840,1860 2870,1838 2885,1860" fill="#c99b93"/>
</g>
<text x="1905.5" y="1958.0" font-size="57.4" fill="#0b1e25" font-weight="700" textLength="862.5" lengthAdjust="spacingAndGlyphs">About your highlighted statistic</text>
<text x="1905.5" y="2055.6" font-size="50.0" fill="#1c2930" textLength="1009.5" lengthAdjust="spacingAndGlyphs">These statistics offer valuable insights into</text>
<text x="1905.5" y="2127.5" font-size="50.0" fill="#1c2930" textLength="1021.5" lengthAdjust="spacingAndGlyphs">the user's asthma management. We assist</text>
<text x="1905.5" y="2199.4" font-size="50.0" fill="#1c2930" textLength="816.5" lengthAdjust="spacingAndGlyphs">users in tracking their daily habits,</text>
<text x="1905.5" y="2271.3" font-size="50.0" fill="#1c2930" textLength="952.5" lengthAdjust="spacingAndGlyphs">empowering them to better understand</text>
<text x="1905.5" y="2343.2" font-size="50.0" fill="#1c2930" textLength="680.5" lengthAdjust="spacingAndGlyphs">and manage their condition.</text>
<rect x="1893.0" y="2428.0" width="1048.0" height="149.0" rx="50" fill="#d5eef5"/>
<text x="2281.0" y="2520.0" font-size="48.7" fill="#0e7286" font-weight="700" textLength="275.0" lengthAdjust="spacingAndGlyphs">Learn more</text>
<text x="1996.0" y="2860.5" font-size="49.4" fill="#8a8f92" textLength="841.0" lengthAdjust="spacingAndGlyphs">You have been tracking this inhaler</text>
<text x="2151.5" y="2932.5" font-size="50.9" fill="#8a8f92" font-weight="700" textLength="530.5" lengthAdjust="spacingAndGlyphs">since January 11, 2024</text>
<text x="3295.0" y="389.0" font-size="67.6" fill="#0b1e25" font-weight="700" textLength="518.0" lengthAdjust="spacingAndGlyphs">Inhaler settings</text>
<text x="3295.0" y="464.0" font-size="50.9" fill="#a9aeb6" textLength="306.0" lengthAdjust="spacingAndGlyphs">0XC0295D04</text>
<path d="M4394 351 L4434 392 M4434 351 L4394 392" stroke="#000" stroke-width="7" stroke-linecap="round"/>
<text x="3293.0" y="635.0" font-size="55.2" fill="#0b1e25" textLength="437.5" lengthAdjust="spacingAndGlyphs">Select category*</text>
<rect x="3293.0" y="702.0" width="1157.0" height="551.0" rx="55" fill="#fff" filter="url(#sh2)"/>
<rect x="3338.0" y="763.0" width="337.0" height="296.0" rx="70" fill="#d5eef5" stroke="#7cc7d6" stroke-width="3"/>
<rect x="3706.0" y="762.0" width="338.0" height="298.0" rx="70" fill="#f0f6fa"/>
<rect x="4075.0" y="762.0" width="338.0" height="298.0" rx="70" fill="#f0f6fa"/>
<g transform="translate(3420,795)"><defs><linearGradient id="bsb" x1="0" y1="0" x2="1" y2="0"><stop offset="0" stop-color="#3a78ad"/><stop offset="0.45" stop-color="#80c3f0"/><stop offset="1" stop-color="#8ccff7"/></linearGradient><linearGradient id="bcb" x1="0" y1="0" x2="1" y2="0"><stop offset="0" stop-color="#b9babd"/><stop offset="0.6" stop-color="#d8d9db"/><stop offset="1" stop-color="#cfd0d2"/></linearGradient><linearGradient id="bbb" x1="0" y1="0" x2="1" y2="0"><stop offset="0" stop-color="#3c7db3"/><stop offset="1" stop-color="#80c1ea"/></linearGradient><linearGradient id="bmb" x1="0" y1="0" x2="1" y2="0"><stop offset="0" stop-color="#6e70ec"/><stop offset="1" stop-color="#5650c0"/></linearGradient></defs><polygon points="52,52 66.5,45.7 119.2,48.5 127.5,55.4 99.8,76.9" fill="#2a659b"/><polygon points="110,52 119.2,48.5 127.5,55.4 99.8,76.9" fill="#1c4a75"/><path d="M67.5 28.4 L67.5 72 Q93 84 118.5 72 L118.5 28.4 Z" fill="#c9cacd"/><path d="M67.5 44 L67.5 61 Q93 70 118.5 61 L118.5 44 Q93 53 67.5 44 Z" fill="url(#bbb)"/><path d="M67.5 28.4 L67.5 40 Q93 52 118.5 40 L118.5 28.4 Z" fill="url(#bcb)"/><path d="M67.5 36 L67.5 44 Q93 55 118.5 44 L118.5 36 Q93 47 67.5 36 Z" fill="#9c9da0"/><ellipse cx="93" cy="28.4" rx="25.5" ry="13.9" fill="#d5d6d8"/><ellipse cx="94" cy="27" rx="14.6" ry="7.6" fill="#cfd0d3" stroke="#b4b5b8" stroke-width="1.2"/><polygon points="52,52 99.8,76.9 99.8,195.5 52,145.5" fill="#1d4872"/><polygon points="58.2,72.1 94.3,90.1 94.3,152.5 58.2,133.1" fill="none" stroke="#173d62" stroke-width="1.3"/><polygon points="99.8,76.9 127.5,55.4 127.5,171.9 99.8,195.5" fill="url(#bsb)"/><polygon points="45.7,147.5 99.8,173.3 99.8,197 91.5,203.9 90.1,174.2 50.5,151.5" fill="#3977ab"/><polygon points="45.7,147.5 99.8,173.3 99.8,178 90.1,174.2 50.5,151.5" fill="#5e9bcb"/><path d="M13.7 170.6 L50.5 151.5 L90.1 174.2 L57.5 194.7 C45 182 25 172 13.7 170.6 Z" fill="#4a47a2"/><path d="M13.7 170.6 C25 172 45 182 57.5 194.7 L57.5 220.2 C40 214 25 205 17 197 C14 193 13.7 188 13.7 184 Z" fill="#342e69"/><polygon points="57.5,194.7 90.1,174.2 91.5,203.9 57.5,220.2" fill="url(#bmb)"/></g>
<circle cx="3612.6" cy="824" r="35.5" fill="#0e7286"/><path d="M3597 826 L3607.4 836 L3633 811.5" fill="none" stroke="#fff" stroke-width="4.5" stroke-linecap="round"/>
<polygon points="3886.8,819.2 3927.9,829.8 3922.6,863.6 3878.8,845" fill="#d3d3d5"/>
<polygon points="3888,824 3898,826.5 3892,852 3881,847" fill="#fbfbfb"/><polygon points="3910,829 3920,831.5 3915,859 3904,855" fill="#fbfbfb"/>
<polygon points="3886.8,819.2 3927.9,829.8 3927,833 3886,822.5" fill="#b9b9bb"/>
<polygon points="3871.5,841.8 3898.7,855.7 3869.5,971 3843,955" fill="#83705e"/>
<polygon points="3898.7,855.7 3927.9,868.3 3894.7,990.9 3860.3,998.8 3860.3,971 3869.5,971" fill="#735a47"/>
<polygon points="3885.4,855 3894.7,858.3 3870.9,971 3859.6,956.4" fill="#9c8b7d"/>
<polygon points="3803.9,963 3843,955.8 3860.3,971 3828.4,977.6" fill="#fbf4e9"/>
<path d="M3803.9 963 L3828.4 977.6 L3828.4 1002.1 L3812 999 Q3804 993 3803.9 985.6 Z" fill="#f4ebdf"/>
<polygon points="3828.4,977.6 3860.3,971 3860.3,998.8 3828.4,1002.1" fill="#e8dfcf"/>
<polygon points="4254.6,811.6 4302.4,819.3 4299,850.5 4249,840.8" fill="#e4e4eb"/>
<polygon points="4256,818 4266,819.5 4261,845 4251,843" fill="#f4f4f8"/>
<polygon points="4254.6,811.6 4302.4,819.3 4302,822.5 4254.2,814.8" fill="#77777e"/>
<polygon points="4233.8,842.8 4292,849.8 4267,979.4 4210.2,965.5" fill="#a53482"/>
<polygon points="4231,855 4282,857 4264,953 4217,950" fill="#922569"/>
<polygon points="4247,856 4256.7,856.7 4239.3,948.9 4229.6,947.5" fill="#c466a6"/>
<polygon points="4292,849.8 4299.6,860.2 4272,1000 4257,1010 4258,978 4265.7,976.6" fill="#c77fb5"/>
<polygon points="4213,964.8 4260,978 4266,985 4239.3,980.8 4229.6,973.9 4185.3,972.5" fill="#7a1a4e"/>
<path d="M4185.3 972.5 L4229.6 973.9 L4239.3 980.8 L4236.5 1011.3 L4204.7 1014 Q4185 1008 4182.5 996 Z" fill="#861d58"/>
<polygon points="4239.3,980.8 4258,978.5 4256,1010 4236.5,1011.3" fill="#b0578f"/>
<text x="3414.0" y="1125.0" font-size="48.7" fill="#1c2930" textLength="184.0" lengthAdjust="spacingAndGlyphs" stroke="#1c2930" stroke-width="0.9">Reliever</text>
<text x="3435.0" y="1184.7" font-size="48.7" fill="#1c2930" textLength="143.0" lengthAdjust="spacingAndGlyphs" stroke="#1c2930" stroke-width="0.9">(blue)</text>
<text x="3769.0" y="1125.0" font-size="48.7" fill="#1c2930" textLength="223.0" lengthAdjust="spacingAndGlyphs" stroke="#1c2930" stroke-width="0.9">Preventer</text>
<text x="3765.0" y="1184.7" font-size="48.7" fill="#1c2930" textLength="233.0" lengthAdjust="spacingAndGlyphs" stroke="#1c2930" stroke-width="0.9">Controller</text>
<text x="4181.0" y="1125.0" font-size="48.7" fill="#1c2930" textLength="128.0" lengthAdjust="spacingAndGlyphs" stroke="#1c2930" stroke-width="0.9">MART</text>
<text x="3292.0" y="1375.6" font-size="54.5" fill="#1c2930" textLength="377.5" lengthAdjust="spacingAndGlyphs">Inhaler name*</text>
<rect x="3292.0" y="1418.0" width="1158.0" height="164.0" rx="30" fill="#fff" filter="url(#sh2)"/>
<text x="3353.0" y="1520.2" font-size="55.2" fill="#a7aeb9" textLength="636.0" lengthAdjust="spacingAndGlyphs">Enter your inhaler name</text>
<text x="3292.0" y="1711.2" font-size="54.5" fill="#1c2930" textLength="337.0" lengthAdjust="spacingAndGlyphs">Inhaler type*</text>
<rect x="3292.0" y="1754.0" width="1158.0" height="165.0" rx="30" fill="#fff" filter="url(#sh2)"/>
<text x="3353.0" y="1855.2" font-size="55.2" fill="#a7aeb9" textLength="492.0" lengthAdjust="spacingAndGlyphs">Select inhaler type</text>
<text x="3294.0" y="2112.0" font-size="64.0" fill="#0b1e25" font-weight="700" textLength="557.0" lengthAdjust="spacingAndGlyphs">Counter settings</text>
<text x="3292.0" y="2249.0" font-size="54.5" fill="#1c2930" textLength="569.0" lengthAdjust="spacingAndGlyphs">Is this a new inhaler?*</text>
<rect x="3294.0" y="2306.0" width="1155.0" height="256.0" rx="35" fill="#d5eef5" stroke="#7cc7d6" stroke-width="3"/>
<circle cx="3369" cy="2436.5" r="36" fill="#0e7286"/><path d="M3353.5 2438.5 L3364 2448.5 L3389 2424.0" fill="none" stroke="#fff" stroke-width="4.5" stroke-linecap="round"/>
<text x="3463.0" y="2419.0" font-size="54.2" fill="#0b1e25" font-weight="700" textLength="93.0" lengthAdjust="spacingAndGlyphs">Yes</text>
<text x="3463.0" y="2488.0" font-size="48.0" fill="#1c2930" textLength="713.5" lengthAdjust="spacingAndGlyphs">Counting down from 200 puffs</text>
<rect x="3292.0" y="2593.0" width="1158.0" height="258.0" rx="35" fill="#fff" filter="url(#sh2)"/>
<circle cx="3373" cy="2721.5" r="36" fill="#e1e4f0"/>
<text x="3464.6" y="2706.0" font-size="54.2" fill="#0b1e25" font-weight="700" textLength="70.4" lengthAdjust="spacingAndGlyphs">No</text>
<text x="3464.6" y="2775.0" font-size="48.0" fill="#1c2930" textLength="375.9" lengthAdjust="spacingAndGlyphs">I set the counter</text>
<text x="3293.7" y="3005.5" font-size="54.5" fill="#1c2930" textLength="448.3" lengthAdjust="spacingAndGlyphs">Frequency of use</text>
<rect x="3293.0" y="3083.0" width="562.0" height="256.0" rx="35" fill="#d5eef5" stroke="#7cc7d6" stroke-width="3"/>
<rect x="3889.0" y="3083.0" width="563.0" height="256.0" rx="35" fill="#fff" filter="url(#sh2)"/>
<rect x="3293.0" y="3371.0" width="562.0" height="400.0" rx="35" fill="#fff" filter="url(#sh2)"/>
<rect x="3889.0" y="3371.0" width="563.0" height="400.0" rx="35" fill="#fff" filter="url(#sh2)"/>
<circle cx="3369.6" cy="3211.4" r="36" fill="#0e7286"/><path d="M3354.1 3213.4 L3364.6 3223.4 L3389.6 3198.9" fill="none" stroke="#fff" stroke-width="4.5" stroke-linecap="round"/>
<circle cx="3964" cy="3211.4" r="36" fill="#e1e4f0"/>
<circle cx="3366.5" cy="3498" r="36" fill="#e1e4f0"/>
<circle cx="3964" cy="3498" r="36" fill="#e1e4f0"/>
<text x="3458.0" y="3194.0" font-size="54.2" fill="#0b1e25" font-weight="700" textLength="232.5" lengthAdjust="spacingAndGlyphs">1 x single</text>
<text x="3458.0" y="3262.0" font-size="48.0" fill="#1c2930" textLength="204.0" lengthAdjust="spacingAndGlyphs">puff/day</text>
<text x="4055.7" y="3194.0" font-size="54.2" fill="#0b1e25" font-weight="700" textLength="258.3" lengthAdjust="spacingAndGlyphs">1 x double</text>
<text x="4055.7" y="3262.0" font-size="48.0" fill="#1c2930" textLength="227.8" lengthAdjust="spacingAndGlyphs">puffs/day</text>
<text x="3458.0" y="3482.0" font-size="54.2" fill="#0b1e25" font-weight="700" textLength="244.0" lengthAdjust="spacingAndGlyphs">2 x single</text>
<text x="3458.0" y="3550.0" font-size="48.0" fill="#1c2930" textLength="204.0" lengthAdjust="spacingAndGlyphs">puff/day</text>
<text x="4055.7" y="3482.0" font-size="54.2" fill="#0b1e25" font-weight="700" textLength="269.3" lengthAdjust="spacingAndGlyphs">2 x double</text>
<text x="4055.7" y="3550.0" font-size="48.0" fill="#1c2930" textLength="227.8" lengthAdjust="spacingAndGlyphs">puffs/day</text>
<rect x="3602" y="2834" width="523" height="154" rx="45" fill="#f7c6d1" stroke="#f5537c" stroke-width="2.2" filter="url(#sh)"/>
<text x="3657.0" y="2931.6" font-size="61.0" fill="#f54e7a" textLength="424.6" lengthAdjust="spacingAndGlyphs" stroke="#f54e7a" stroke-width="1.3">Save changes</text>
</svg></body></html>
